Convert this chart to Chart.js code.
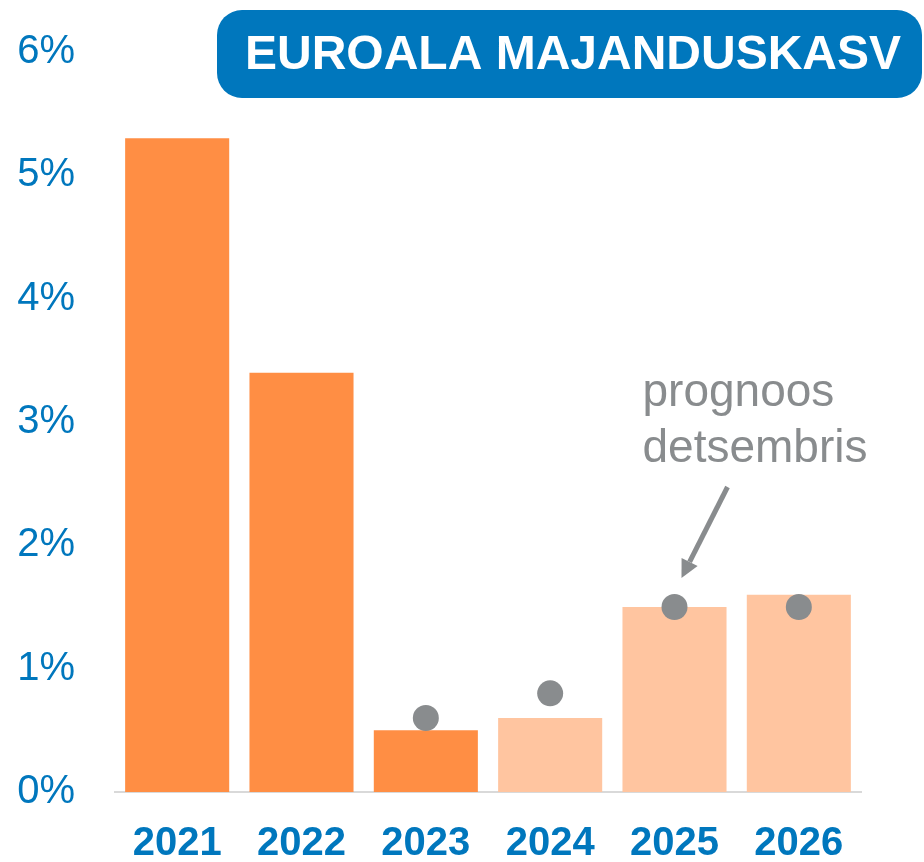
<!DOCTYPE html>
<html>
<head>
<meta charset="utf-8">
<script src="https://cdn.jsdelivr.net/npm/chart.js@4"></script>
<style>
  html, body { margin: 0; padding: 0; background: #fff; }
  #wrap { width: 924px; height: 862px; }
</style>
</head>
<body>
<div id="wrap"><canvas id="myChart" width="924" height="862"></canvas></div>
<script>
const YEARS = ["2021", "2022", "2023", "2024", "2025", "2026"];
const GROWTH = [5.3, 3.4, 0.5, 0.6, 1.5, 1.6];
const FORECAST_DEC = [null, null, 0.6, 0.8, 1.5, 1.5];
const Y_TICKS = [0, 1, 2, 3, 4, 5, 6];
const TITLE = "EUROALA MAJANDUSKASV";
const NOTE = ["prognoos", "detsembris"];
const NOTE_YEAR = "2025";

const BLUE = "#0077BD";
const GREY = "#898C8E";
const barColors = YEARS.map((y, i) => (i < 3 ? "#FF8E44" : "#FFC5A0"));

// title box + arrow note
const overlay = {
  id: "overlay",
  afterDraw(chart) {
    const c = chart.ctx;
    c.save();
    c.fillStyle = BLUE;
    c.beginPath();
    c.roundRect(217, 10, 705, 88, 25);
    c.fill();
    c.fillStyle = "#fff";
    c.font = "bold 48px 'Liberation Sans', Arial, sans-serif";
    c.textAlign = "center";
    c.textBaseline = "middle";
    c.fillText(TITLE, 573, 56);

    const meta = chart.getDatasetMeta(1);
    const idx = YEARS.indexOf(NOTE_YEAR);
    const pt = meta.data[idx];
    const tipX = pt.x + 7, tipY = pt.y - 29;
    const startX = pt.x + 53, startY = pt.y - 120;
    c.strokeStyle = GREY;
    c.fillStyle = GREY;
    c.lineWidth = 5;
    const ang = Math.atan2(tipY - startY, tipX - startX);
    const hl = 18, hw = 9;
    const baseX = tipX - hl * Math.cos(ang), baseY = tipY - hl * Math.sin(ang);
    c.beginPath();
    c.moveTo(startX, startY);
    c.lineTo(baseX, baseY);
    c.stroke();
    c.beginPath();
    c.moveTo(tipX, tipY);
    c.lineTo(baseX + hw * Math.sin(ang), baseY - hw * Math.cos(ang));
    c.lineTo(baseX - hw * Math.sin(ang), baseY + hw * Math.cos(ang));
    c.closePath();
    c.fill();

    c.font = "46px 'Liberation Sans', Arial, sans-serif";
    c.textAlign = "left";
    c.textBaseline = "alphabetic";
    c.fillText(NOTE[0], pt.x - 32, pt.y - 201);
    c.fillText(NOTE[1], pt.x - 32, pt.y - 145);
    c.restore();
  },
};

var ctx = document.getElementById("myChart").getContext("2d");
var myChart = new Chart(ctx, {
  type: "bar",
  data: {
    labels: YEARS,
    datasets: [
      {
        label: "Majanduskasv",
        data: GROWTH,
        backgroundColor: barColors,
        categoryPercentage: 1,
        barPercentage: 0.837,
        order: 2,
      },
      {
        type: "line",
        label: "Prognoos detsembris",
        data: FORECAST_DEC,
        showLine: false,
        pointRadius: 13,
        pointHoverRadius: 13,
        pointBackgroundColor: GREY,
        pointBorderWidth: 0,
        order: 1,
      },
    ],
  },
  options: {
    responsive: false,
    animation: false,
    layout: { autoPadding: false, padding: { top: 52, right: 63, bottom: 0, left: 0 } },
    plugins: { legend: { display: false }, tooltip: { enabled: false } },
    scales: {
      x: {
        afterFit: (scale) => { scale.height = 70; },
        grid: { display: false, drawTicks: false },
        border: { color: "#D9D9D9", width: 2 },
        ticks: {
          color: BLUE,
          padding: 28,
          font: { family: "'Liberation Sans', Arial, sans-serif", size: 40, weight: "bold" },
        },
      },
      y: {
        min: 0,
        max: 6,
        afterFit: (scale) => {
          scale.width = 115;
          scale.paddingTop = 0;
          scale.paddingBottom = 0;
        },
        afterBuildTicks: (scale) => { scale.ticks = Y_TICKS.map((v) => ({ value: v })); },
        grid: { display: false, drawTicks: false },
        border: { display: false },
        ticks: {
          color: BLUE,
          padding: 40,
          callback: (value) => value + "%",
          font: { family: "'Liberation Sans', Arial, sans-serif", size: 40 },
        },
      },
    },
  },
  plugins: [overlay],
});
</script>
</body>
</html>
